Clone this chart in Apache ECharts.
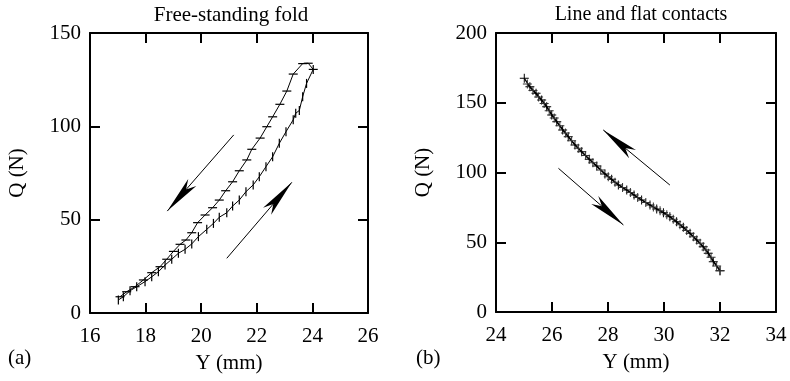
<!DOCTYPE html>
<html>
<head>
<meta charset="utf-8">
<script src="https://cdn.jsdelivr.net/npm/echarts@6/dist/echarts.min.js"></script>
<style>html,body{margin:0;padding:0;background:#fff}#c{width:790px;height:381px}</style>
</head>
<body>
<div id="c"></div>
<script>
// (a) Free-standing fold — loading branch (lower curve, vertical tick markers)
var foldLoading = [
  [17.02,7.0],[17.20,8.7],[17.44,11.9],[17.68,14.1],[17.98,16.8],[18.22,19.4],[18.46,22.1],
  [18.70,25.7],[18.94,28.8],[19.18,32.0],[19.42,34.1],[19.66,37.0],[19.90,40.9],[20.20,44.8],
  [20.44,48.0],[20.65,51.3],[20.92,53.7],[21.13,57.3],[21.37,60.5],[21.61,65.0],[21.87,68.6],
  [22.09,73.0],[22.33,78.4],[22.57,83.7],[22.81,90.9],[23.05,97.1],[23.31,103.5],[23.40,107.0],
  [23.53,108.5],[23.65,115.9],[23.79,123.0],[24.03,130.5]
];
// (a) unloading branch (upper curve, horizontal tick markers)
var foldUnloading = [
  [24.03,130.5],[23.85,133.8],[23.65,133.6],[23.31,128.0],[23.08,118.9],[22.83,111.8],[22.57,105.1],
  [22.36,99.8],[22.12,93.7],[21.82,87.7],[21.64,82.0],[21.37,76.2],[21.13,70.3],[20.88,65.5],
  [20.65,60.5],[20.41,56.4],[20.14,52.5],[19.87,48.4],[19.66,43.0],[19.45,39.1],[19.24,36.8],
  [19.00,33.0],[18.76,28.8],[18.52,24.8],[18.22,21.6],[17.92,17.7],[17.62,14.1],[17.32,11.4],[17.08,8.7]
];
// (b) Line and flat contacts — branch 1
var contactA = [
  [25.01,167.5],[25.21,161.5],[25.43,156.8],[25.63,152.0],[25.81,147.2],[25.99,141.2],[26.17,136.4],
  [26.38,130.5],[26.58,125.7],[26.82,119.7],[27.06,114.9],[27.33,109.5],[27.60,104.7],[27.89,98.9],
  [28.13,95.1],[28.37,91.0],[28.67,87.5],[28.93,83.9],[29.20,80.3],[29.50,76.7],[29.74,73.8],
  [29.98,71.2],[30.21,68.3],[30.45,64.7],[30.69,60.7],[30.93,56.4],[31.17,51.6],[31.40,46.8],
  [31.58,42.1],[31.76,36.1],[32.00,29.6]
];
// (b) branch 2
var contactB = [
  [25.12,163.5],[25.32,158.8],[25.52,154.2],[25.72,149.5],[25.90,144.3],[26.08,139.0],[26.28,133.5],
  [26.48,128.3],[26.70,122.7],[26.94,117.3],[27.20,112.1],[27.46,107.0],[27.74,101.8],[28.01,97.0],
  [28.25,93.0],[28.52,89.2],[28.80,85.7],[29.06,82.1],[29.35,78.5],[29.62,75.3],[29.86,72.5],
  [30.10,69.8],[30.33,66.4],[30.57,62.6],[30.81,58.5],[31.05,54.0],[31.29,49.2],[31.50,44.4],
  [31.68,39.2],[31.88,33.0],[32.00,29.6]
];
// arrows [start, tip]
var foldArrowDown = [[21.17,95.4],[18.78,54.6]];
var foldArrowUp = [[20.92,29.3],[23.26,70.0]];
var contactArrowUp = [[30.21,91.0],[27.83,130.5]];
var contactArrowDown = [[26.23,103.0],[28.55,62.4]];

var titles = ['Free-standing fold', 'Line and flat contacts'];
var xName = 'Y (mm)', yName = 'Q (N)';
var panelLabels = ['(a)', '(b)'];

var FONT = 'Liberation Serif';
var FS = 21;
var plusPath = 'path://M4,0L5,0L5,4L9,4L9,5L5,5L5,9L4,9L4,5L0,5L0,4L4,4Z';

function xAx(grid, min, max, pos, labels) {
  return {
    type: 'value', gridIndex: grid, min: min, max: max, interval: 2, position: pos,
    name: labels ? xName : '', nameLocation: 'middle', nameGap: 40,
    nameTextStyle: {fontFamily: FONT, fontSize: FS, color: '#000'},
    axisLine: {show: true, onZero: false, lineStyle: {color: '#000', width: 2}},
    axisTick: {show: true, inside: true, length: 10, lineStyle: {color: '#000', width: 2}},
    axisLabel: {show: labels, margin: 13, fontFamily: FONT, fontSize: FS, color: '#000'},
    splitLine: {show: false}
  };
}
function yAx(grid, min, max, pos, labels) {
  return {
    type: 'value', gridIndex: grid, min: min, max: max, interval: 50, position: pos,
    name: labels ? yName : '', nameLocation: 'middle', nameGap: 62,
    nameTextStyle: {fontFamily: FONT, fontSize: FS, color: '#000'},
    axisLine: {show: true, onZero: false, lineStyle: {color: '#000', width: 2}},
    axisTick: {show: true, inside: true, length: 10, lineStyle: {color: '#000', width: 2}},
    axisLabel: {show: labels, margin: 9, fontFamily: FONT, fontSize: FS, color: '#000'},
    splitLine: {show: false}
  };
}
function arrow(a) {
  return [{coord: a[0]}, {coord: a[1]}];
}
var mlBase = {
  silent: true, animation: false, symbol: ['none', 'arrow'], symbolSize: [8, 38],
  label: {show: false},
  lineStyle: {color: '#000', width: 1, type: 'solid'},
  itemStyle: {color: '#000'}
};

var chart = echarts.init(document.getElementById('c'), null, {renderer: 'canvas'});
chart.setOption({
  animation: false,
  backgroundColor: '#fff',
  title: [
    {text: titles[0], left: 226, top: 0, textAlign: 'center', textStyle: {fontFamily: FONT, fontSize: FS, fontWeight: 'normal', color: '#000'}},
    {text: titles[1], left: 636, top: 0, textAlign: 'center', textStyle: {fontFamily: FONT, fontSize: 20, fontWeight: 'normal', color: '#000'}}
  ],
  graphic: [
    {type: 'text', left: 8, top: 348, style: {text: panelLabels[0], font: FS + 'px "' + FONT + '"', fill: '#000'}},
    {type: 'text', left: 416, top: 348, style: {text: panelLabels[1], font: FS + 'px "' + FONT + '"', fill: '#000'}}
  ],
  grid: [
    {left: 90, top: 33, width: 278, height: 280},
    {left: 496, top: 33, width: 280, height: 279}
  ],
  xAxis: [
    xAx(0, 16, 26, 'bottom', true), xAx(0, 16, 26, 'top', false),
    xAx(1, 24, 34, 'bottom', true), xAx(1, 24, 34, 'top', false)
  ],
  yAxis: [
    yAx(0, 0, 150, 'left', true), yAx(0, 0, 150, 'right', false),
    yAx(1, 0, 200, 'left', true), yAx(1, 0, 200, 'right', false)
  ],
  series: [
    {type: 'line', xAxisIndex: 0, yAxisIndex: 0, data: foldLoading, showSymbol: true,
     symbol: 'rect', symbolSize: [1.2, 9], itemStyle: {color: '#000'},
     lineStyle: {color: '#000', width: 1},
     markLine: Object.assign({}, mlBase, {data: [arrow(foldArrowDown), arrow(foldArrowUp)]})},
    {type: 'line', xAxisIndex: 0, yAxisIndex: 0, data: foldUnloading, showSymbol: true,
     symbol: 'rect', symbolSize: [9, 1.2], itemStyle: {color: '#000'},
     lineStyle: {color: '#000', width: 1}},
    {type: 'line', xAxisIndex: 2, yAxisIndex: 2, data: contactA, showSymbol: true,
     symbol: plusPath, symbolSize: 9, itemStyle: {color: '#000'},
     lineStyle: {color: '#000', width: 1.3},
     markLine: Object.assign({}, mlBase, {data: [arrow(contactArrowUp), arrow(contactArrowDown)]})},
    {type: 'line', xAxisIndex: 2, yAxisIndex: 2, data: contactB, showSymbol: true,
     symbol: plusPath, symbolSize: 9, itemStyle: {color: '#333'},
     lineStyle: {color: '#000', width: 1.3}}
  ]
});
</script>
</body>
</html>
